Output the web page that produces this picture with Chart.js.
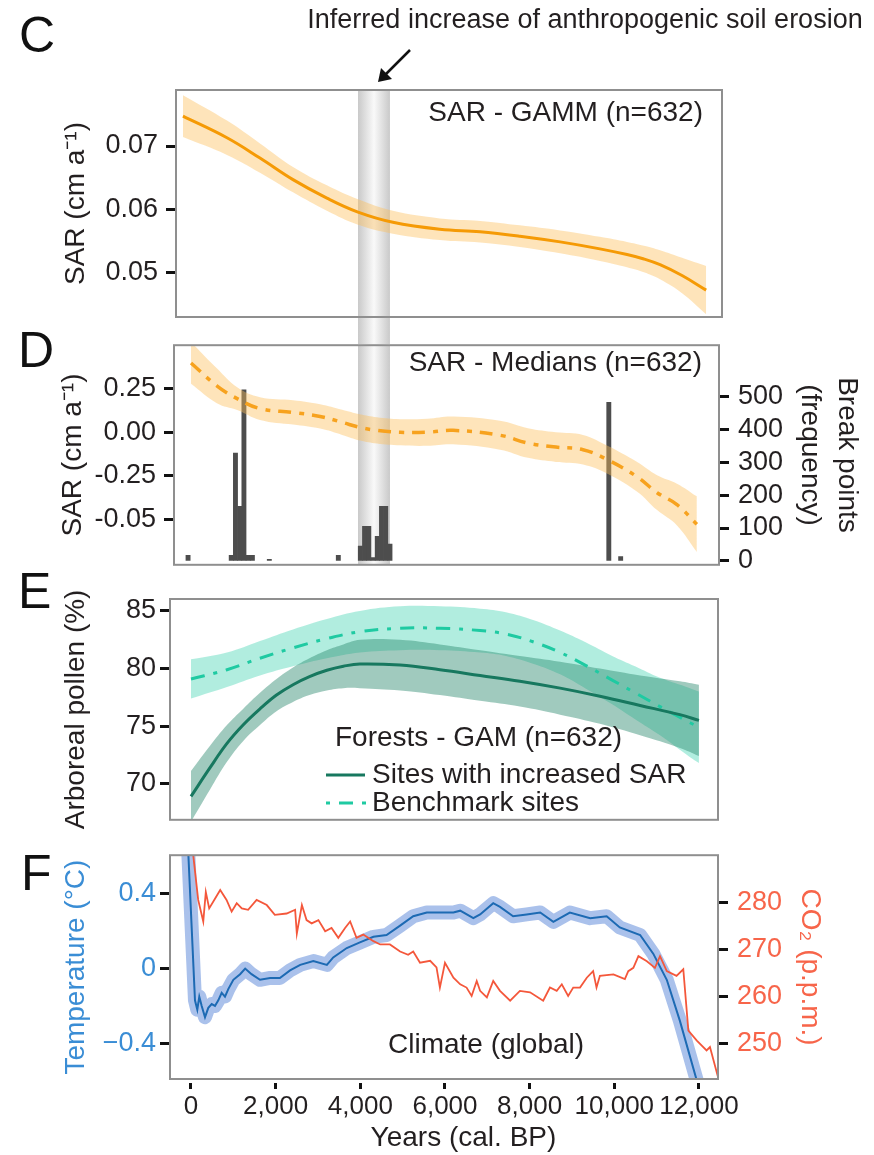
<!DOCTYPE html>
<html>
<head>
<meta charset="utf-8">
<title>Soil erosion, forests and climate</title>
<script src="https://cdn.jsdelivr.net/npm/chart.js@4.4.1/dist/chart.umd.min.js"></script>
<style>
  html, body { margin: 0; padding: 0; background: #fff; }
  #page { position: relative; width: 874px; height: 1155px; overflow: hidden; }
  #page canvas { position: absolute; left: 0; }
</style>
</head>
<body>
<div id="page">
  <canvas id="panelC" width="874" height="344" style="top:0px"></canvas>
  <canvas id="panelD" width="874" height="270" style="top:320px"></canvas>
  <canvas id="panelE" width="874" height="280" style="top:560px"></canvas>
  <canvas id="panelF" width="874" height="325" style="top:830px"></canvas>
</div>
<script>
// --- shared x axis (years cal. BP) ---
const yearTicks = [0, 2000, 4000, 6000, 8000, 10000, 12000];
const yearTickLabels = ["0", "2,000", "4,000", "6,000", "8,000", "10,000", "12,000"];
const erosionBand = [3945, 4700];

// --- C: SAR GAMM ---
const gammYears = [-190, 850, 1630, 2410, 3210, 3945, 4770, 5880, 6830, 7770, 8720, 9660, 10300, 10700, 11080, 11600, 12170];
const gammFit   = [0.0747, 0.0713, 0.0681, 0.0647, 0.0618, 0.0596, 0.0580, 0.0569, 0.0565, 0.0558, 0.0549, 0.0538, 0.0529, 0.0522, 0.0513, 0.0496, 0.0473];
const gammHigh  = [0.0780, 0.0740, 0.0704, 0.0667, 0.0638, 0.0616, 0.0598, 0.0586, 0.0582, 0.0575, 0.0567, 0.0557, 0.0549, 0.0543, 0.0536, 0.0524, 0.0511];
const gammLow   = [0.0714, 0.0686, 0.0658, 0.0627, 0.0598, 0.0576, 0.0562, 0.0552, 0.0548, 0.0541, 0.0531, 0.0519, 0.0509, 0.0501, 0.0490, 0.0468, 0.0435];
const gammTicks = [0.05, 0.06, 0.07];
const gammTickLabels = ["0.05", "0.06", "0.07"];

// --- D: SAR medians + break points ---
const medYears = [0, 610, 1090, 1630, 2410, 3050, 3570, 3990, 4390, 4940, 5580, 6190, 7300, 7960, 8620, 9260, 9850, 10540, 11010, 11480, 11950];
const medFit   = [0.398, 0.267, 0.193, 0.136, 0.114, 0.091, 0.057, 0.028, 0.011, 0.0, 0.0, 0.011, -0.017, -0.062, -0.085, -0.100, -0.159, -0.256, -0.347, -0.415, -0.528];
const medHigh  = [0.518, 0.367, 0.258, 0.201, 0.184, 0.161, 0.129, 0.103, 0.086, 0.075, 0.078, 0.091, 0.066, 0.023, 0.000, -0.015, -0.079, -0.171, -0.247, -0.295, -0.368];
const medLow   = [0.278, 0.167, 0.128, 0.071, 0.044, 0.021, -0.015, -0.047, -0.064, -0.075, -0.078, -0.069, -0.100, -0.147, -0.170, -0.185, -0.239, -0.341, -0.447, -0.535, -0.688];
const medTicks = [-0.5, -0.25, 0, 0.25];
const medTickLabels = ["-0.05", "-0.25", "0.00", "0.25"];
const breakYears  = [-70, 950, 1050, 1150, 1250, 1350, 1450, 1850, 3480, 4000, 4100, 4200, 4300, 4400, 4500, 4600, 4700, 9870, 10150];
const breakCounts = [17, 17, 328, 166, 521, 17, 17, 5, 17, 45, 105, 105, 10, 75, 166, 166, 51, 483, 13];
const breakTicks = [0, 100, 200, 300, 400, 500];
const breakTickLabels = ["0", "100", "200", "300", "400", "500"];

// --- E: arboreal pollen GAM ---
const sitesYears = [0, 450, 850, 1230, 1630, 2020, 2410, 2800, 3210, 3600, 3990, 4940, 5880, 6830, 7770, 8720, 9660, 10610, 11550, 12000];
const sitesFit   = [68.9, 71.4, 73.5, 75.1, 76.5, 77.7, 78.6, 79.3, 79.85, 80.2, 80.4, 80.3, 79.9, 79.4, 78.9, 78.3, 77.6, 76.8, 76.0, 75.5];
const sitesHigh  = [71.1, 73.3, 75.1, 76.5, 77.9, 79.1, 80.1, 80.9, 81.6, 82.1, 82.5, 82.5, 82.1, 81.6, 81.1, 80.6, 80.0, 79.4, 78.9, 78.6];
const sitesLow   = [66.7, 69.5, 71.9, 73.7, 75.1, 76.3, 77.1, 77.7, 78.1, 78.3, 78.3, 78.1, 77.7, 77.2, 76.7, 76.0, 75.2, 74.2, 73.1, 72.4];
const benchYears = [0, 850, 1630, 2410, 3210, 3990, 4940, 5880, 6830, 7440, 8100, 8720, 9310, 9950, 10490, 11080, 11790, 12000];
const benchFit   = [79.1, 79.9, 80.9, 81.8, 82.6, 83.2, 83.5, 83.5, 83.3, 83.0, 82.3, 81.4, 80.3, 79.0, 77.9, 76.7, 75.3, 74.9];
const benchHigh  = [80.8, 81.4, 82.4, 83.4, 84.3, 85.0, 85.4, 85.4, 85.2, 84.9, 84.2, 83.3, 82.3, 81.1, 80.2, 79.2, 78.3, 78.0];
const benchLow   = [77.4, 78.4, 79.4, 80.2, 80.9, 81.4, 81.6, 81.6, 81.4, 81.1, 80.4, 79.5, 78.3, 76.9, 75.6, 74.2, 72.3, 71.8];
const pollenTicks = [70, 75, 80, 85];
const pollenTickLabels = ["70", "75", "80", "85"];

// --- F: global climate ---
const tempYears  = [-100, 94, 149, 196, 253, 331, 409, 489, 567, 645, 725, 803, 881, 1000, 1160, 1280, 1430, 1630, 1870, 2100, 2340, 2580, 2890, 3210, 3360, 3680, 3990, 4310, 4620, 4940, 5250, 5570, 5880, 6200, 6360, 6670, 6830, 7140, 7300, 7610, 7930, 8250, 8560, 8950, 9430, 9820, 10130, 10610, 10920, 11240, 11550, 11950, 12100];
const tempValues = [0.80, -0.17, -0.22, -0.15, -0.20, -0.26, -0.21, -0.19, -0.20, -0.17, -0.13, -0.15, -0.11, -0.06, -0.03, 0.00, -0.03, -0.06, -0.05, -0.05, -0.01, 0.02, 0.04, 0.02, 0.06, 0.11, 0.14, 0.17, 0.18, 0.23, 0.28, 0.30, 0.30, 0.30, 0.31, 0.27, 0.29, 0.35, 0.33, 0.28, 0.29, 0.30, 0.25, 0.30, 0.27, 0.28, 0.22, 0.18, 0.08, -0.06, -0.28, -0.60, -0.70];
const tempTicks = [-0.4, 0, 0.4];
const tempTickLabels = ["\u22120.4", "0", "0.4"];
const co2Years  = [30, 170, 290, 350, 430, 570, 690, 840, 960, 1080, 1200, 1350, 1550, 1790, 1980, 2260, 2460, 2500, 2620, 2730, 2850, 3010, 3170, 3320, 3480, 3640, 3760, 3910, 4070, 4310, 4470, 4700, 4940, 5130, 5250, 5410, 5650, 5800, 5880, 6000, 6200, 6360, 6510, 6630, 6750, 6830, 6990, 7140, 7300, 7540, 7770, 8010, 8320, 8480, 8640, 8760, 8910, 9030, 9190, 9350, 9500, 9580, 9660, 9980, 10250, 10330, 10450, 10570, 10770, 10960, 11080, 11240, 11470, 11630, 11750, 11950, 12180, 12260, 12460];
const co2Values = [292, 280.6, 276.0, 282.3, 278.8, 280.9, 282.7, 280.6, 278.1, 279.9, 278.8, 278.5, 280.6, 279.5, 277.4, 277.7, 278.5, 273.4, 279.5, 276.3, 275.6, 276.3, 273.9, 274.6, 272.5, 274.6, 276.0, 272.5, 273.2, 271.8, 271.1, 271.1, 269.6, 268.9, 269.6, 267.2, 267.6, 266.2, 261.9, 267.2, 264.0, 262.6, 261.9, 260.1, 263.3, 261.2, 259.8, 263.3, 261.2, 259.1, 261.2, 260.9, 259.1, 261.9, 261.2, 262.6, 260.1, 261.9, 261.9, 264.0, 265.4, 261.9, 264.4, 264.7, 263.7, 265.4, 266.1, 268.6, 267.5, 266.1, 268.6, 265.4, 264.4, 265.8, 252.7, 250.6, 248.5, 249.2, 242.5];
const co2Ticks = [250, 260, 270, 280];
const co2TickLabels = ["250", "260", "270", "280"];

// --- look ---
const FONT = "'Liberation Sans', Arial, Helvetica, sans-serif";
const INK = "#231f20";
const BLUE_TXT = "#3a8dd5";
const RED_TXT = "#f7654a";
const tickFont = { family: FONT, size: 27 };
const titleFont = { family: FONT, size: 28 };

function pts(xs, ys) {
    return xs.map((x, i) => ({ x: x, y: ys[i] }));
}

// force an axis to a fixed width / height so the plot boxes line up
function fixWidth(w) { return scale => { scale.width = w; }; }
function fixHeight(h) { return scale => { scale.height = h; }; }
function useTicks(values) { return scale => { scale.ticks = values.map(v => ({ value: v })); }; }

function sideAxis(position, min, max, width, ticks, labels, color, tickPad, title) {
    return {
        type: "linear", position: position, min: min, max: max,
        afterFit: fixWidth(width),
        afterBuildTicks: useTicks(ticks),
        ticks: { callback: (v, i) => labels[i], font: tickFont, color: color, padding: tickPad, autoSkip: false },
        grid: { drawOnChartArea: false, tickLength: 10, tickWidth: 3, tickColor: "#111" },
        border: { display: false },
        title: title
    };
}

function baseOptions(pad) {
    return {
        responsive: false,
        animation: false,
        events: [],
        layout: { padding: pad },
        plugins: { legend: { display: false }, tooltip: { enabled: false } },
        elements: { point: { radius: 0 } }
    };
}

function text(ctx, s, x, y, size, align, color) {
    ctx.font = size + "px " + FONT;
    ctx.textAlign = align;
    ctx.textBaseline = "middle";
    ctx.fillStyle = color || INK;
    ctx.fillText(s, x, y);
}

function letter(ctx, s, x, baseline) {
    ctx.font = "50px " + FONT;
    ctx.textAlign = "left";
    ctx.textBaseline = "alphabetic";
    ctx.fillStyle = "#111";
    ctx.fillText(s, x, baseline);
}

const framePlugin = {
    id: "frame",
    afterDatasetsDraw(chart) {
        const a = chart.chartArea, ctx = chart.ctx;
        ctx.save();
        ctx.strokeStyle = "#8f8f8f";
        ctx.lineWidth = 2;
        ctx.strokeRect(a.left, a.top, a.right - a.left, a.bottom - a.top);
        ctx.restore();
    }
};

// grey "cylinder" marking the inferred erosion increase
function bandPlugin(toCanvasBottom) {
    return {
        id: "erosionBand",
        beforeDatasetsDraw(chart) {
            const xs = chart.scales.x, a = chart.chartArea, ctx = chart.ctx;
            const x1 = xs.getPixelForValue(erosionBand[0]);
            const x2 = xs.getPixelForValue(erosionBand[1]);
            const bottom = toCanvasBottom ? chart.height : a.bottom;
            const g = ctx.createLinearGradient(x1, 0, x2, 0);
            g.addColorStop(0, "rgba(165,165,165,0.6)");
            g.addColorStop(0.5, "rgba(245,245,245,0.6)");
            g.addColorStop(1, "rgba(165,165,165,0.6)");
            ctx.save();
            ctx.fillStyle = g;
            ctx.fillRect(x1, a.top, x2 - x1, bottom - a.top);
            ctx.restore();
        }
    };
}

const smooth = { tension: 0.4 };

// ---------------- C ----------------
new Chart(document.getElementById("panelC"), {
    type: "line",
    data: {
        datasets: [
            Object.assign({ data: pts(gammYears, gammLow), borderWidth: 0, fill: false, order: 3, clip: 0 }, smooth),
            Object.assign({ data: pts(gammYears, gammHigh), borderWidth: 0, fill: "-1", backgroundColor: "rgba(253,190,90,0.42)", order: 2, clip: 0 }, smooth),
            Object.assign({ data: pts(gammYears, gammFit), borderColor: "#f59a05", borderWidth: 3, fill: false, order: 1, clip: 0 }, smooth)
        ]
    },
    options: Object.assign(baseOptions({ top: 90, bottom: 27, left: 0, right: 152 }), {
        scales: {
            x: { type: "linear", min: -354, max: 12544, display: false },
            y: sideAxis("left", 0.04307, 0.07882, 176, gammTicks, gammTickLabels, INK, 8,
                { display: true, text: "SAR (cm a\u207B\u00B9)", font: titleFont, color: INK, padding: { top: 59, bottom: 0 } })
        }
    }),
    plugins: [bandPlugin(true), framePlugin, {
        id: "decoC",
        afterDraw(chart) {
            const ctx = chart.ctx;
            ctx.save();
            letter(ctx, "C", 19, 52);
            text(ctx, "Inferred increase of anthropogenic soil erosion", 585, 21, 27, "center");
            text(ctx, "SAR - GAMM (n=632)", 703, 113, 28, "right");
            // arrow
            ctx.strokeStyle = "#111";
            ctx.fillStyle = "#111";
            ctx.lineWidth = 2.5;
            ctx.beginPath();
            ctx.moveTo(410, 50);
            ctx.lineTo(386, 74);
            ctx.stroke();
            ctx.beginPath();
            ctx.moveTo(378, 82);
            ctx.lineTo(381, 68);
            ctx.lineTo(392, 79);
            ctx.closePath();
            ctx.fill();
            ctx.restore();
        }
    }]
});

// ---------------- D ----------------
new Chart(document.getElementById("panelD"), {
    type: "line",
    data: {
        datasets: [
            { type: "bar", data: pts(breakYears, breakCounts), yAxisID: "y2", backgroundColor: "#4d4d4d",
              borderWidth: 0, barPercentage: 1, categoryPercentage: 1, order: 5 },
            Object.assign({ data: pts(medYears, medLow), borderWidth: 0, fill: false, order: 4, clip: 0 }, smooth),
            Object.assign({ data: pts(medYears, medHigh), borderWidth: 0, fill: "-1", backgroundColor: "rgba(253,190,90,0.42)", order: 3, clip: 0 }, smooth),
            Object.assign({ data: pts(medYears, medFit), borderColor: "#f7a21e", borderWidth: 3.5, borderDash: [13, 8, 5, 8],
              fill: false, order: 1, clip: 0 }, smooth)
        ]
    },
    options: Object.assign(baseOptions({ top: 24, bottom: 24, left: 0, right: 0 }), {
        scales: {
            x: { type: "linear", min: -402, max: 12473, display: false, offset: false },
            y: sideAxis("left", -0.761, 0.5, 174, medTicks, medTickLabels, INK, 8,
                { display: true, text: "SAR (cm a\u207B\u00B9)", font: titleFont, color: INK, padding: { top: 56, bottom: 0 } }),
            y2: sideAxis("right", -12, 657, 155, breakTicks, breakTickLabels, INK, 9,
                { display: true, text: ["Break points", "(frequency)"], font: { family: FONT, size: 28, lineHeight: 1.35 },
                  color: INK, padding: { top: 8, bottom: 0 } })
        }
    }),
    plugins: [bandPlugin(false), framePlugin, {
        id: "decoD",
        afterDraw(chart) {
            const ctx = chart.ctx;
            ctx.save();
            letter(ctx, "D", 18, 47);
            text(ctx, "SAR - Medians (n=632)", 702, 43, 28, "right");
            ctx.restore();
        }
    }]
});

// ---------------- E ----------------
new Chart(document.getElementById("panelE"), {
    type: "line",
    data: {
        datasets: [
            Object.assign({ data: pts(benchYears, benchLow), borderWidth: 0, fill: false, order: 6, clip: 0 }, smooth),
            Object.assign({ data: pts(benchYears, benchHigh), borderWidth: 0, fill: "-1", backgroundColor: "rgba(70,212,178,0.42)", order: 5, clip: 0 }, smooth),
            Object.assign({ data: pts(sitesYears, sitesLow), borderWidth: 0, fill: false, order: 4, clip: 0 }, smooth),
            Object.assign({ data: pts(sitesYears, sitesHigh), borderWidth: 0, fill: "-1", backgroundColor: "rgba(45,138,110,0.45)", order: 3, clip: 0 }, smooth),
            Object.assign({ data: pts(benchYears, benchFit), borderColor: "#1fcaa2", borderWidth: 3, borderDash: [14, 9, 4, 9],
              fill: false, order: 2, clip: 0 }, smooth),
            Object.assign({ data: pts(sitesYears, sitesFit), borderColor: "#17785f", borderWidth: 3, fill: false, order: 1, clip: 0 }, smooth)
        ]
    },
    options: Object.assign(baseOptions({ top: 39, bottom: 20, left: 0, right: 156 }), {
        scales: {
            x: { type: "linear", min: -496, max: 12450, display: false },
            y: sideAxis("left", 66.87, 86.04, 170, pollenTicks, pollenTickLabels, INK, 4,
                { display: true, text: "Arboreal pollen (%)", font: titleFont, color: INK, padding: { top: 59, bottom: 0 } })
        }
    }),
    plugins: [framePlugin, {
        id: "decoE",
        afterDraw(chart) {
            const ctx = chart.ctx;
            ctx.save();
            letter(ctx, "E", 18, 48);
            text(ctx, "Forests - GAM (n=632)", 335, 178, 28, "left");
            text(ctx, "Sites with increased SAR", 372, 215, 28, "left");
            text(ctx, "Benchmark sites", 372, 243, 28, "left");
            ctx.lineWidth = 3;
            ctx.strokeStyle = "#17785f";
            ctx.beginPath();
            ctx.moveTo(326, 215);
            ctx.lineTo(365, 215);
            ctx.stroke();
            ctx.strokeStyle = "#1fcaa2";
            ctx.setLineDash([4, 9, 14, 9]);
            ctx.beginPath();
            ctx.moveTo(326, 243);
            ctx.lineTo(366, 243);
            ctx.stroke();
            ctx.restore();
        }
    }]
});

// ---------------- F ----------------
new Chart(document.getElementById("panelF"), {
    type: "line",
    data: {
        datasets: [
            { data: pts(co2Years, co2Values), yAxisID: "y2", borderColor: "#f4573b", borderWidth: 1.8, fill: false, tension: 0, order: 1, clip: 0 },
            { data: pts(tempYears, tempValues), yAxisID: "y", borderColor: "#1d6ab3", borderWidth: 2, fill: false, tension: 0, order: 2, clip: 0 },
            { data: pts(tempYears, tempValues), yAxisID: "y", borderColor: "rgba(100,142,218,0.55)", borderWidth: 14,
              borderJoinStyle: "round", borderCapStyle: "round", fill: false, tension: 0, order: 3, clip: 0 }
        ]
    },
    options: Object.assign(baseOptions({ top: 23, bottom: 0, left: 0, right: 0 }), {
        scales: {
            x: {
                type: "linear", position: "bottom", min: -496, max: 12450,
                afterFit: fixHeight(76),
                afterBuildTicks: useTicks(yearTicks),
                ticks: { callback: (v, i) => yearTickLabels[i], font: { family: FONT, size: 26 }, color: INK, padding: 2, autoSkip: false, maxRotation: 0 },
                grid: { drawOnChartArea: false, tickLength: 10, tickWidth: 3, tickColor: "#111", tickBorderDash: [0, 4, 6, 40] },
                border: { display: false },
                title: { display: true, text: "     Years (cal. BP)", font: titleFont, color: INK, padding: { top: 0, bottom: 0 } }
            },
            y: sideAxis("left", -0.591, 0.607, 170, tempTicks, tempTickLabels, BLUE_TXT, 4,
                { display: true, text: "Temperature (\u00B0C)", font: titleFont, color: BLUE_TXT, padding: { top: 59, bottom: 0 } }),
            y2: sideAxis("right", 242.39, 290.14, 156, co2Ticks, co2TickLabels, RED_TXT, 9,
                { display: true, text: "CO\u2082 (p.p.m.)", font: titleFont, color: RED_TXT, padding: { top: 47, bottom: 0 } })
        }
    }),
    plugins: [framePlugin, {
        id: "decoF",
        afterDraw(chart) {
            const ctx = chart.ctx;
            ctx.save();
            letter(ctx, "F", 21, 60);
            text(ctx, "Climate (global)", 388, 215, 28, "left");
            ctx.restore();
        }
    }]
});
</script>
</body>
</html>
